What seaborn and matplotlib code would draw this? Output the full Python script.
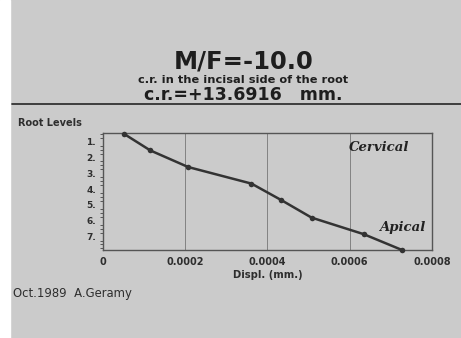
import matplotlib
matplotlib.use("Agg")
import matplotlib.pyplot as plt
import seaborn as sns
import pandas as pd
from matplotlib.lines import Line2D
from matplotlib.ticker import MultipleLocator

# values
displ = [0.000051, 0.000115, 0.000207, 0.000361, 0.000434, 0.000507, 0.000634, 0.000727]
level = [0.5, 1.55, 2.6, 3.65, 4.7, 5.8, 6.85, 7.85]
xticks = [0, 0.0002, 0.0004, 0.0006, 0.0008]
xticklabels = ["0", "0.0002", "0.0004", "0.0006", "0.0008"]
yticks = [1, 2, 3, 4, 5, 6, 7]

df = pd.DataFrame({"displ": displ, "level": level})

sns.set_style("white")
plt.rcParams["font.family"] = ["DejaVu Sans"]

bg = "#cbcbcb"
ink = "#2e2e2e"
fig = plt.figure(figsize=(4.61, 3.38), dpi=100, facecolor=bg)
# white strip on the left edge of the photo
fig.patches.append(plt.Rectangle((0, 0), 0.022, 1, transform=fig.transFigure,
                                 color="white", zorder=0))

ax = fig.add_axes([0.2234, 0.2604, 0.7137, 0.346])
ax.set_facecolor(bg)

sns.lineplot(data=df, x="displ", y="level", ax=ax, color="#333333",
             linewidth=1.8, marker="o", markersize=4, markeredgewidth=0,
             clip_on=False, zorder=5)

ax.set_xlim(0, 0.0008)
ax.set_ylim(7.85, 0.45)
ax.set_xticks(xticks)
ax.set_xticklabels(xticklabels, fontsize=7, fontweight="bold", color=ink)
ax.set_yticks(yticks)
ax.set_yticklabels([str(t) + "." for t in yticks], fontsize=6.5, fontweight="bold", color=ink)
ax.yaxis.set_minor_locator(MultipleLocator(0.25))
ax.tick_params(axis="both", which="major", length=3, width=0.7, pad=2, color="#444444")
ax.tick_params(axis="y", which="minor", length=2, width=0.6, color="#444444", left=True)
ax.set_xlabel("Displ. (mm.)", fontsize=7.2, fontweight="bold", color=ink, labelpad=2)
ax.set_ylabel("")
for s in ax.spines.values():
    s.set_color("#555555")
    s.set_linewidth(1.0)
for xv in xticks[1:-1]:
    ax.axvline(xv, color="#777777", linewidth=0.6)

ax.text(0.84, 0.88, "Cervical", transform=ax.transAxes, fontsize=9.5, style="italic",
        fontweight="bold", family="DejaVu Serif", color="#222222", ha="center", va="center")
ax.text(0.91, 0.19, "Apical", transform=ax.transAxes, fontsize=9.5, style="italic",
        fontweight="bold", family="DejaVu Serif", color="#222222", ha="center", va="center")

fig.text(0.528, 0.818, "M/F=-10.0", ha="center", va="center", fontsize=17.5,
         fontweight="bold", color="#1e1e1e")
fig.text(0.528, 0.763, "c.r. in the incisal side of the root", ha="center", va="center",
         fontsize=8.2, fontweight="bold", color="#1e1e1e")
fig.text(0.528, 0.718, "c.r.=+13.6916   mm.", ha="center", va="center", fontsize=12.5,
         fontweight="bold", color="#1e1e1e")
fig.add_artist(Line2D([0.025, 1.0], [0.692, 0.692], transform=fig.transFigure,
                      color="#333333", linewidth=1.3))

fig.text(0.04, 0.635, "Root Levels", ha="left", va="center", fontsize=7,
         fontweight="bold", color=ink)
fig.text(0.028, 0.133, "Oct.1989  A.Geramy", ha="left", va="center", fontsize=8.4,
         color=ink)

fig.savefig("out.png", dpi=100, facecolor=bg)
